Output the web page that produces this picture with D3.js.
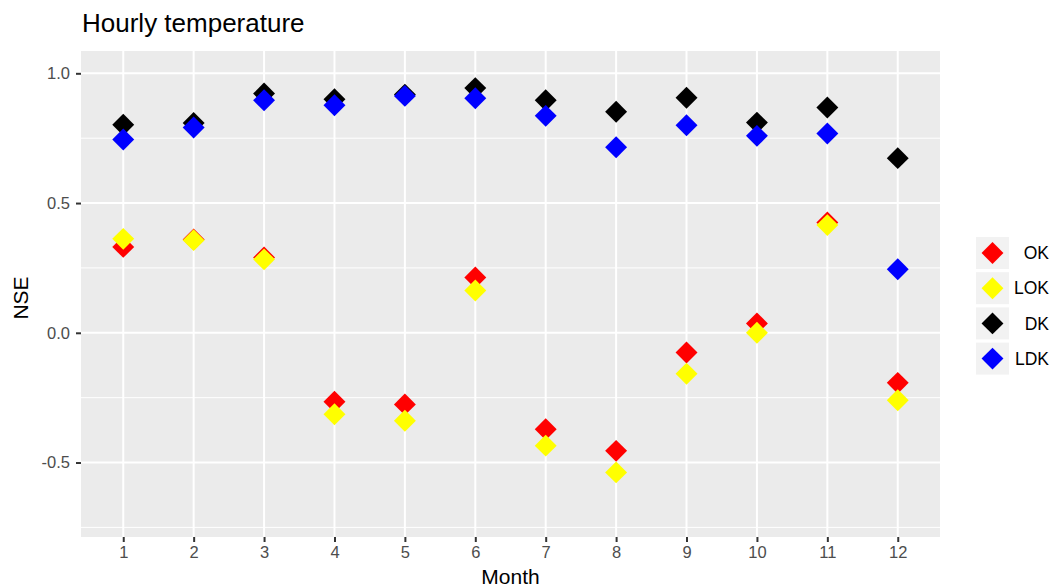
<!DOCTYPE html>
<meta charset="utf-8">
<style>
body { margin: 0; background: #fff; }
text { font-family: "Liberation Sans", Arial, sans-serif; }
</style>
<svg width="1053" height="587"></svg>
<script src="https://d3js.org/d3.v7.min.js"></script>
<script>
var months = [1, 2, 3, 4, 5, 6, 7, 8, 9, 10, 11, 12]
var okValues  = [0.331, 0.360, 0.290, -0.266, -0.276, 0.213, -0.372, -0.455, -0.076, 0.036, 0.425, -0.193]
var lokValues = [0.362, 0.357, 0.283, -0.314, -0.339, 0.163, -0.435, -0.538, -0.158, 0.000, 0.415, -0.260]
var dkValues  = [0.802, 0.809, 0.922, 0.900, 0.918, 0.943, 0.896, 0.852, 0.906, 0.810, 0.868, 0.673]
var ldkValues = [0.745, 0.791, 0.896, 0.877, 0.913, 0.904, 0.836, 0.715, 0.800, 0.759, 0.768, 0.245]
var seriesNames = ["OK", "LOK", "DK", "LDK"]
var seriesColors = ["red", "yellow", "black", "blue"]
var yTicks = [-0.5, 0.0, 0.5, 1.0]
var yMinor = [-0.75, -0.25, 0.25, 0.75]

var series = [okValues, lokValues, dkValues, ldkValues].map(function (vals, i) {
  return { name: seriesNames[i], color: seriesColors[i], values: vals }
})

var svg = d3.select('svg')
var panel = { left: 81, right: 940, top: 51, bottom: 537 }

var x = d3.scaleLinear().domain([0.4, 12.6]).range([panel.left, panel.right])
var y = d3.scaleLinear().domain([-0.787, 1.086]).range([panel.bottom, panel.top])

// panel background
svg.append('rect')
  .attr('x', panel.left).attr('y', panel.top)
  .attr('width', panel.right - panel.left).attr('height', panel.bottom - panel.top)
  .attr('fill', '#ebebeb')

// grid
var grid = svg.append('g')
grid.selectAll('line.minor').data(yMinor).enter().append('line')
  .attr('x1', panel.left).attr('x2', panel.right)
  .attr('y1', function (d) { return y(d) }).attr('y2', function (d) { return y(d) })
  .attr('stroke', '#fff').attr('stroke-width', 1)
grid.selectAll('line.major').data(yTicks).enter().append('line')
  .attr('x1', panel.left).attr('x2', panel.right)
  .attr('y1', function (d) { return y(d) }).attr('y2', function (d) { return y(d) })
  .attr('stroke', '#fff').attr('stroke-width', 2)
grid.selectAll('line.vmajor').data(months).enter().append('line')
  .attr('y1', panel.top).attr('y2', panel.bottom)
  .attr('x1', function (d) { return x(d) }).attr('x2', function (d) { return x(d) })
  .attr('stroke', '#fff').attr('stroke-width', 2)

// axes (plain hyphen for negatives, like R)
var fmt1 = d3.format('.1f')
var xAxis = d3.axisBottom(x).tickValues(months).tickSize(5).tickPadding(4).tickFormat(d3.format('d'))
var yAxis = d3.axisLeft(y).tickValues(yTicks).tickSize(5).tickPadding(6)
  .tickFormat(function (d) { return fmt1(d).replace('\u2212', '-') })

function styleAxis(g) {
  g.select('.domain').remove()
  g.selectAll('.tick line').attr('stroke', '#333').attr('stroke-width', 2)
  g.selectAll('.tick text').attr('fill', '#4d4d4d').attr('font-size', 16.5)
    .style('font-family', '"Liberation Sans", Arial, sans-serif')
}
svg.append('g').attr('transform', 'translate(0,' + panel.bottom + ')').call(xAxis).call(styleAxis)
svg.append('g').attr('transform', 'translate(' + panel.left + ',0)').call(yAxis).call(styleAxis)

// points
var diamond = d3.symbol().type(d3.symbolSquare).size(15.5 * 15.5)
series.forEach(function (s) {
  svg.append('g').selectAll('path').data(s.values).enter().append('path')
    .attr('d', diamond)
    .attr('transform', function (d, i) { return 'translate(' + x(months[i]) + ',' + y(d) + ') rotate(45)' })
    .attr('fill', s.color)
})

// titles
svg.append('text').attr('x', 82).attr('y', 32)
  .attr('font-size', 26).attr('fill', '#000').text('Hourly temperature')
svg.append('text').attr('x', (panel.left + panel.right) / 2).attr('y', 584)
  .attr('text-anchor', 'middle').attr('font-size', 21).attr('fill', '#000').text('Month')
svg.append('text').attr('transform', 'translate(28,298) rotate(-90)')
  .attr('text-anchor', 'middle').attr('font-size', 21).attr('fill', '#000').text('NSE')

// legend
var legend = svg.append('g').attr('transform', 'translate(976,237)')
var keys = legend.selectAll('g').data(series).enter().append('g')
  .attr('transform', function (d, i) { return 'translate(0,' + (i * 35.2) + ')' })
keys.append('rect').attr('width', 33).attr('height', 32).attr('fill', '#f2f2f2')
keys.append('path').attr('d', diamond)
  .attr('transform', 'translate(16.5,16) rotate(45)')
  .attr('fill', function (d) { return d.color })
keys.append('text').attr('x', 73).attr('y', 16).attr('dy', '0.35em')
  .attr('text-anchor', 'end').attr('font-size', 17.5).attr('fill', '#000')
  .text(function (d) { return d.name })
</script>
